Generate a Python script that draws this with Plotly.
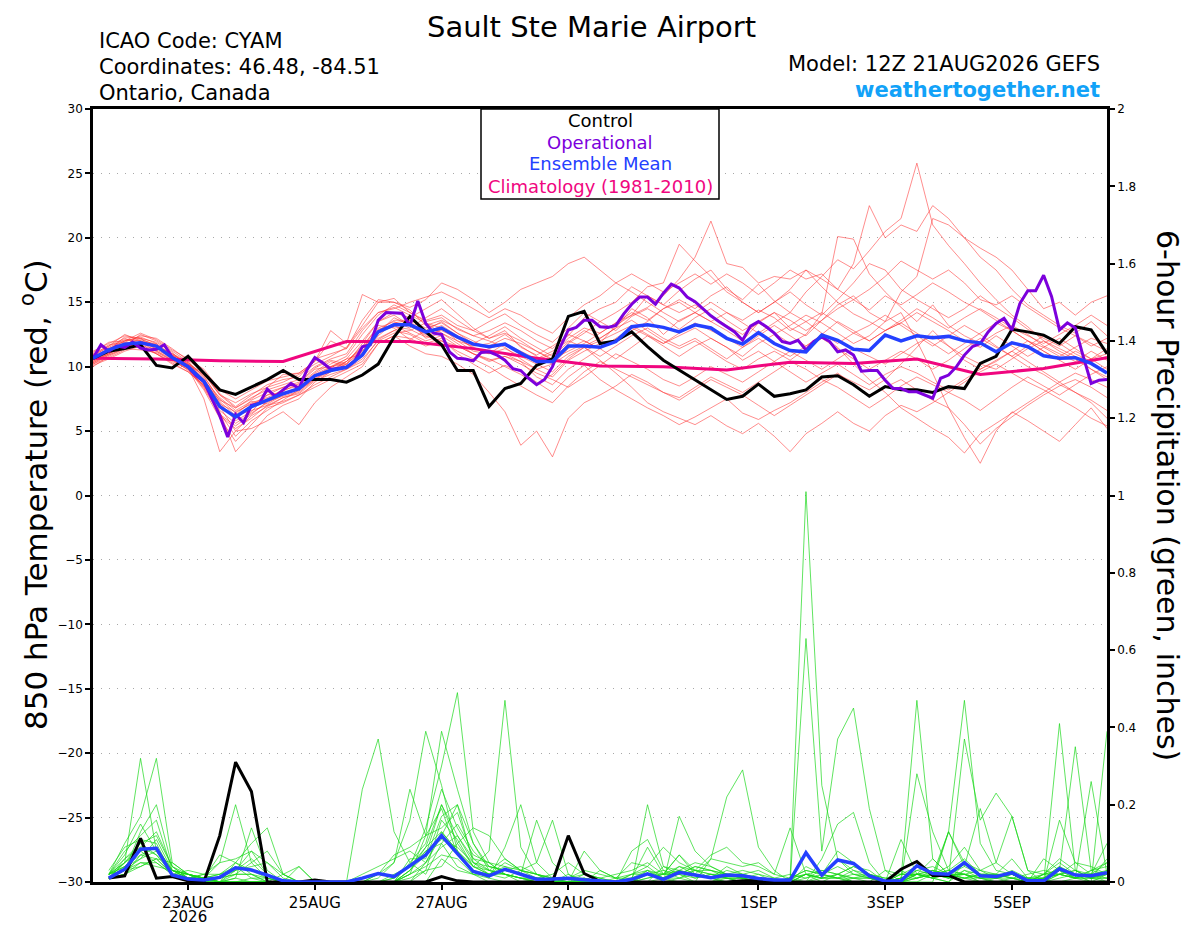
import pandas as pd
import plotly.graph_objects as go

# ---------------- data ----------------
times = pd.date_range("2026-08-21 12:00", periods=65, freq="6h")
op_times = pd.date_range("2026-08-21 12:00", periods=129, freq="3h")
precip_times = times[1:]
clim_times = pd.date_range("2026-08-21 12:00", periods=17, freq="24h")

tick_dates = ["2026-08-23", "2026-08-25", "2026-08-27", "2026-08-29",
              "2026-09-01", "2026-09-03", "2026-09-05"]
tick_text = ["23AUG", "25AUG", "27AUG", "29AUG", "1SEP", "3SEP", "5SEP"]
year_label = "2026"

control_temp = [10.65, 11.2, 11.4, 11.7, 10.1, 9.9, 10.8, 9.5, 8.2, 7.85, 8.45, 9.0, 9.7,
                9.0, 9.0, 9.0, 8.8, 9.35, 10.2, 12.3, 13.9, 12.7, 11.7, 9.7, 9.7, 6.9,
                8.3, 8.7, 10.1, 10.6, 13.9, 14.3, 11.8, 12.0, 12.7, 11.55, 10.5, 9.75, 8.95,
                8.25, 7.45, 7.7, 8.65, 7.7, 7.9, 8.2, 9.2, 9.3, 8.6, 7.7, 8.45, 8.2,
                8.2, 8.0, 8.45, 8.3, 10.25, 10.8, 12.9, 12.7, 12.45, 11.8, 13.1, 12.85, 11.0]

mean_temp = [10.65, 11.3, 11.75, 11.85, 11.6, 10.7, 10.0, 8.85, 6.9, 6.1, 6.9, 7.4, 7.9,
             8.3, 9.3, 9.7, 9.95, 10.9, 12.7, 13.25, 13.25, 12.7, 13.0, 12.3, 11.75, 11.55,
             11.75, 11.05, 10.4, 10.4, 11.6, 11.6, 11.5, 11.95, 13.1, 13.25, 13.05, 12.7, 13.25,
             13.0, 12.2, 11.75, 12.65, 11.8, 11.25, 11.15, 12.45, 12.05, 11.35, 11.25, 12.45, 12.0,
             12.4, 12.25, 12.35, 12.0, 11.85, 11.15, 11.85, 11.55, 10.85, 10.65, 10.7, 10.25, 9.5]

oper_temp = [10.65, 11.7, 11.2, 11.6, 11.5, 11.9, 11.45, 11.3, 11.35, 11.7, 10.7, 10.4, 10.0,
             9.3, 8.85, 7.5, 6.2, 4.55, 6.3, 5.65, 7.0, 7.15, 8.25, 7.7, 8.2, 8.7, 8.3,
             9.75, 10.7, 10.3, 9.8, 9.9, 9.95, 10.4, 11.55, 11.7, 13.6, 14.2, 14.2, 14.15,
             13.2, 15.1, 13.35, 12.6, 12.5, 11.15, 10.65, 10.6, 10.45, 11.1, 11.15, 10.9, 10.5,
             9.85, 9.7, 9.1, 8.6, 9.0, 10.0, 11.55, 12.85, 13.05, 13.6, 13.6, 13.1, 13.05,
             13.2, 14.1, 14.85, 15.4, 15.4, 14.85, 15.7, 16.4, 16.1, 15.4, 15.05, 14.5, 13.95,
             13.5, 13.1, 12.7, 12.05, 13.15, 13.5, 13.1, 12.6, 11.95, 11.8, 12.05, 11.3, 11.95,
             12.3, 11.95, 11.15, 11.3, 10.9, 9.65, 9.7, 9.7, 8.95, 8.3, 8.3, 8.05, 8.05,
             7.8, 7.55, 9.1, 9.35, 10.0, 10.9, 11.55, 11.8, 12.7, 13.35, 13.75, 12.85, 14.9,
             15.9, 15.9, 17.1, 15.45, 12.85, 13.4, 13.0, 10.8, 8.7, 8.95, 9.0]

clim_temp = [10.65, 10.6, 10.45, 10.4, 11.95, 11.95, 11.4, 10.65, 10.05,
             10.0, 9.75, 10.35, 10.25, 10.6, 9.4, 9.85, 10.7]

r01 = [10.5, 11.4, 12.0, 12.3, 11.8, 10.6, 10.2, 9.0, 7.2, 5.8, 6.5, 7.8, 8.4,
       8.8, 9.9, 10.5, 10.2, 11.8, 13.5, 14.2, 13.8, 14.5, 15.2, 14.1, 13.0, 12.2,
       12.8, 11.5, 10.9, 11.6, 12.4, 13.8, 14.5, 15.0, 16.2, 15.5, 14.8, 15.9, 16.8,
       17.5, 16.0, 15.2, 16.4, 15.1, 14.2, 15.8, 17.0, 18.3, 17.6, 19.0, 20.5, 21.5,
       25.8, 21.0, 19.4, 18.0, 16.5, 15.2, 14.0, 13.1, 12.0, 11.4, 10.8, 9.8, 9.0]
r02 = [10.2, 10.9, 11.5, 11.9, 11.2, 10.5, 9.8, 8.2, 6.0, 4.2, 5.5, 6.8, 7.2,
       7.8, 8.6, 9.2, 9.8, 10.4, 12.1, 12.8, 12.5, 11.8, 12.2, 11.0, 10.2, 9.5,
       10.1, 9.6, 8.8, 8.0, 9.2, 10.1, 9.0, 8.2, 7.5, 6.8, 6.2, 5.5, 6.1,
       6.8, 7.5, 6.4, 5.9, 6.6, 7.2, 8.0, 8.8, 9.5, 8.6, 7.8, 8.4, 9.0,
       8.2, 7.4, 6.8, 5.5, 4.0, 5.2, 6.1, 7.0, 7.8, 8.5, 9.0, 8.4, 7.6]
r03 = [10.8, 11.6, 12.2, 11.8, 11.0, 10.2, 9.6, 8.5, 6.5, 3.4, 4.8, 6.2, 7.0,
       7.5, 8.8, 9.6, 10.4, 11.5, 13.2, 13.0, 12.1, 12.8, 13.5, 12.6, 11.8, 12.4,
       13.1, 12.2, 11.5, 10.8, 11.9, 12.8, 12.2, 13.0, 14.5, 13.8, 12.5, 13.6, 14.2,
       13.5, 12.8, 12.0, 13.4, 12.6, 11.8, 12.5, 14.1, 20.1, 19.9, 17.2, 15.8, 14.6,
       13.5, 14.8, 13.2, 12.4, 11.8, 12.6, 13.2, 12.5, 11.6, 11.0, 10.4, 11.2, 10.5]
r04 = [10.0, 10.8, 11.4, 12.0, 11.6, 11.0, 10.4, 9.2, 7.5, 6.4, 7.2, 7.6, 8.2,
       8.5, 9.5, 10.2, 10.8, 12.5, 14.0, 14.8, 14.2, 13.5, 13.8, 12.9, 12.4, 12.0,
       11.5, 10.6, 9.8, 9.2, 10.5, 11.2, 11.8, 13.2, 14.0, 14.6, 15.5, 16.8, 18.5,
       21.3, 18.0, 17.7, 16.5, 17.0, 16.8, 17.5, 16.2, 15.0, 14.1, 13.5, 12.8, 13.4,
       14.2, 13.5, 12.8, 12.0, 11.5, 12.4, 11.6, 10.8, 11.5, 12.2, 11.4, 10.6, 11.0]
r05 = [11.2, 11.8, 12.4, 12.2, 11.6, 10.8, 10.2, 9.5, 7.8, 6.8, 7.5, 8.4, 8.8,
       9.4, 10.2, 10.8, 11.5, 13.2, 15.0, 15.3, 14.2, 13.6, 14.0, 13.2, 12.8, 13.5,
       14.1, 13.2, 12.5, 11.9, 13.0, 14.2, 13.5, 12.8, 13.9, 14.5, 13.8, 12.9, 13.8,
       14.5, 13.6, 12.8, 13.5, 14.2, 13.0, 12.4, 13.6, 14.8, 15.5, 14.2, 13.5, 15.8,
       17.0, 21.5, 21.0, 20.0, 18.5, 17.5, 16.0, 14.8, 14.0, 13.2, 12.6, 13.5, 12.4]
r06 = [10.4, 11.0, 11.6, 12.5, 12.0, 11.2, 10.4, 8.8, 6.2, 5.2, 6.0, 7.0, 7.6,
       8.0, 9.0, 9.8, 10.0, 11.2, 12.6, 13.8, 13.2, 12.4, 12.0, 11.6, 11.0, 10.5,
       10.8, 10.2, 9.5, 9.0, 8.4, 9.2, 10.1, 11.0, 10.4, 9.8, 9.0, 8.5, 9.2,
       10.0, 9.4, 8.8, 9.6, 10.4, 11.2, 10.5, 9.8, 10.6, 11.4, 10.8, 10.2, 11.0,
       11.8, 12.4, 11.6, 10.8, 10.2, 9.8, 10.6, 11.4, 12.0, 11.2, 10.6, 9.8, 9.2]
r07 = [10.6, 11.2, 11.9, 11.5, 11.2, 10.6, 9.9, 7.5, 3.4, 5.0, 5.2, 5.8, 6.5,
       5.5, 7.2, 8.4, 9.2, 10.0, 11.8, 12.4, 11.6, 11.0, 10.8, 10.2, 9.4, 8.0,
       6.5, 3.9, 5.0, 3.0, 6.0, 7.2, 7.8, 8.5, 9.4, 8.8, 8.0, 7.4, 8.2,
       9.0, 8.4, 7.8, 7.0, 6.2, 7.0, 7.8, 8.6, 9.4, 8.8, 8.2, 9.0, 10.2,
       11.5, 12.8, 11.6, 10.5, 9.8, 10.4, 11.2, 12.0, 11.5, 10.8, 11.5, 12.2, 11.8]
r08 = [10.9, 11.5, 12.1, 12.0, 11.4, 11.0, 10.2, 9.0, 7.0, 6.0, 7.0, 7.8, 8.0,
       8.2, 9.2, 10.0, 10.6, 12.0, 13.5, 14.0, 13.2, 12.5, 12.8, 12.2, 11.5, 11.0,
       11.4, 10.8, 10.2, 9.6, 10.8, 11.5, 12.0, 12.6, 13.2, 12.5, 11.8, 12.4, 13.0,
       12.2, 11.5, 10.8, 11.8, 12.5, 13.2, 14.0, 13.4, 12.6, 11.8, 12.4, 13.5, 14.2,
       12.0, 9.5, 6.8, 4.5, 2.5, 5.0, 6.5, 5.8, 5.0, 4.2, 5.5, 6.8, 5.2]
r09 = [10.3, 11.0, 11.8, 12.1, 11.7, 10.9, 10.0, 8.6, 6.6, 5.6, 6.4, 7.2, 7.9,
       8.4, 9.4, 10.0, 10.4, 11.6, 13.0, 13.5, 13.0, 13.8, 14.5, 13.6, 12.8, 12.2,
       12.6, 12.0, 11.2, 10.5, 11.8, 12.6, 13.5, 14.2, 15.0, 16.2, 16.5, 19.5, 18.2,
       17.0, 15.8, 15.0, 14.2, 15.0, 15.8, 14.8, 14.0, 15.2, 16.5, 18.0, 17.5, 16.0,
       15.2, 14.5, 13.8, 14.5, 15.5, 14.6, 13.8, 12.9, 12.2, 11.6, 12.4, 11.8, 11.2]
r10 = [10.7, 11.4, 11.7, 11.6, 11.0, 10.4, 9.8, 8.8, 7.4, 6.8, 7.6, 8.2, 8.6,
       9.0, 10.0, 10.6, 11.0, 12.8, 14.2, 14.6, 14.0, 13.4, 13.0, 12.0, 11.6, 11.8,
       12.5, 11.6, 10.8, 10.2, 11.4, 12.0, 11.4, 10.6, 11.5, 12.4, 11.6, 10.8, 11.6,
       12.2, 11.5, 10.5, 11.2, 10.4, 9.6, 8.8, 9.5, 10.2, 9.4, 8.6, 9.4, 10.0,
       9.5, 8.8, 8.2, 9.0, 9.8, 10.5, 11.2, 10.4, 9.6, 8.8, 8.0, 7.2, 6.0]
r11 = [10.1, 10.6, 11.2, 11.6, 11.4, 10.8, 10.1, 9.4, 7.8, 7.2, 7.9, 8.4, 9.4,
       9.5, 10.4, 12.8, 11.8, 15.6, 15.0, 15.0, 14.6, 15.2, 16.5, 16.0, 15.2, 14.2,
       15.0, 16.0, 16.5, 17.0, 18.0, 18.5, 17.5, 16.5, 15.8, 15.0, 14.2, 13.5, 14.2,
       15.0, 14.2, 13.6, 14.4, 13.8, 12.8, 13.5, 14.2, 13.4, 12.6, 12.0, 12.8, 13.4,
       12.6, 11.8, 11.0, 11.8, 12.6, 13.4, 12.8, 12.0, 11.2, 10.5, 11.2, 10.6, 9.8]
r12 = [10.6, 11.3, 12.0, 12.2, 11.9, 11.1, 10.0, 8.4, 6.4, 4.6, 5.8, 6.6, 7.4,
       8.2, 9.0, 9.6, 10.2, 11.4, 12.9, 13.2, 12.6, 12.0, 12.4, 11.6, 11.0, 10.6,
       10.0, 9.4, 8.6, 9.4, 10.6, 11.5, 10.5, 9.5, 8.4, 7.2, 6.5, 6.0, 5.5,
       6.2, 5.4, 4.8, 5.6, 4.6, 3.4, 4.8, 5.6, 6.5, 5.6, 5.0, 6.2, 7.0,
       6.5, 7.2, 8.0, 7.4, 6.6, 7.5, 8.4, 9.2, 8.5, 7.8, 8.6, 9.4, 10.0]
r13 = [11.0, 11.6, 12.5, 12.0, 11.5, 10.6, 9.7, 8.5, 6.8, 6.2, 7.4, 8.0, 8.4,
       8.6, 9.6, 10.4, 10.0, 10.8, 12.4, 13.4, 13.6, 13.0, 13.4, 12.6, 12.0, 11.4,
       11.8, 11.2, 10.6, 11.2, 12.0, 11.5, 10.8, 11.6, 12.4, 13.0, 12.2, 11.6, 12.2,
       11.4, 10.6, 11.5, 12.2, 11.4, 10.8, 11.6, 12.4, 11.5, 10.2, 9.0, 8.0, 6.8,
       6.0, 5.2, 4.5, 3.3, 4.8, 5.6, 6.4, 7.2, 8.0, 8.8, 9.5, 9.0, 8.4]
r14 = [10.4, 11.1, 11.5, 11.9, 11.8, 10.9, 10.3, 9.1, 7.1, 6.5, 7.1, 7.5, 8.1,
       8.7, 9.8, 10.0, 10.2, 11.2, 12.8, 13.6, 13.6, 12.2, 12.6, 12.0, 11.2, 11.0,
       11.8, 11.0, 10.5, 11.0, 12.2, 13.0, 12.6, 13.4, 14.2, 13.6, 14.5, 15.2, 14.5,
       15.5, 16.2, 15.0, 14.2, 15.0, 16.0, 17.5, 16.8, 16.0, 18.0, 22.5, 20.0, 21.0,
       20.5, 22.5, 21.5, 20.0, 19.2, 18.5, 17.5, 16.0, 14.5, 15.0, 14.0, 15.0, 15.5]
r15 = [10.9, 11.7, 11.9, 12.4, 12.2, 11.4, 10.5, 9.6, 7.9, 6.9, 7.8, 8.6, 9.0,
       9.2, 10.6, 11.0, 11.4, 13.6, 15.2, 15.0, 14.4, 13.2, 13.6, 13.0, 12.4, 12.8,
       13.4, 12.8, 12.0, 11.4, 12.5, 12.0, 11.4, 12.2, 13.0, 12.4, 11.8, 12.6, 13.4,
       12.8, 12.2, 11.5, 12.4, 13.2, 12.4, 11.6, 12.5, 13.5, 12.8, 12.0, 12.8, 13.6,
       14.5, 13.8, 13.0, 13.8, 14.5, 13.8, 13.0, 12.4, 11.8, 12.5, 13.2, 14.0, 13.2]
r16 = [10.5, 11.0, 11.6, 11.5, 11.0, 10.3, 9.6, 8.6, 6.9, 5.0, 6.2, 6.9, 7.6,
       7.9, 8.9, 9.4, 9.8, 10.6, 12.0, 12.6, 12.8, 13.4, 12.6, 11.8, 11.0, 10.4,
       10.8, 10.4, 9.2, 8.6, 9.8, 10.6, 11.4, 12.0, 12.8, 13.5, 14.5, 15.0, 14.2,
       13.5, 14.2, 13.4, 12.6, 13.4, 14.2, 13.5, 12.6, 11.8, 12.6, 13.2, 14.0, 13.2,
       12.4, 11.6, 12.4, 13.2, 12.5, 11.6, 10.8, 11.6, 12.4, 11.8, 11.0, 10.4, 10.8]
r17 = [10.8, 11.3, 12.3, 12.2, 11.3, 10.7, 10.0, 8.9, 7.6, 6.6, 7.3, 7.1, 7.8,
       8.4, 9.2, 9.9, 10.6, 11.0, 12.2, 12.8, 13.4, 12.6, 13.2, 12.4, 11.8, 11.6,
       12.2, 11.8, 11.2, 10.6, 11.2, 11.8, 12.6, 13.4, 14.0, 15.5, 14.8, 14.2, 14.8,
       14.0, 13.2, 12.5, 13.4, 14.2, 13.6, 12.8, 13.6, 14.5, 15.2, 14.4, 15.5, 14.8,
       15.6, 16.5, 15.8, 15.0, 14.4, 13.6, 12.8, 12.0, 11.2, 10.5, 9.8, 10.6, 11.4]
r18 = [10.2, 10.7, 11.3, 11.8, 11.5, 10.9, 10.3, 9.3, 7.3, 6.2, 6.6, 7.0, 7.3,
       7.8, 8.4, 9.0, 9.6, 10.2, 11.8, 12.4, 12.2, 11.6, 12.0, 11.2, 10.6, 10.0,
       9.2, 8.5, 7.8, 7.2, 8.5, 9.6, 10.4, 9.8, 9.2, 8.6, 8.0, 7.6, 8.4,
       9.2, 8.6, 8.0, 8.8, 9.6, 10.4, 9.8, 9.0, 8.4, 7.6, 6.8, 7.6, 8.5,
       9.2, 8.6, 8.0, 8.8, 9.6, 10.2, 9.5, 8.8, 8.2, 7.5, 6.8, 6.0, 5.4]
r19 = [11.1, 11.9, 12.0, 12.6, 12.1, 11.3, 10.6, 9.8, 8.2, 7.5, 8.2, 8.9, 9.2,
       9.5, 10.4, 12.0, 11.4, 13.0, 14.2, 14.5, 15.0, 15.4, 15.8, 15.2, 14.5, 13.8,
       14.5, 14.0, 13.2, 12.6, 13.8, 14.8, 15.5, 16.5, 17.2, 16.5, 15.8, 16.5, 17.2,
       16.4, 17.2, 16.5, 15.6, 16.5, 17.5, 16.8, 17.2, 16.0, 15.2, 16.0, 17.0, 18.2,
       17.5, 16.8, 17.5, 16.5, 15.2, 14.8, 15.5, 14.6, 13.8, 13.0, 12.4, 11.6, 12.2]
r20 = [10.3, 10.9, 11.4, 11.3, 11.1, 10.5, 9.9, 8.3, 6.3, 5.4, 6.3, 7.3, 7.7,
       8.1, 9.1, 9.7, 10.4, 11.4, 12.7, 13.1, 12.9, 12.3, 12.9, 12.3, 11.4, 11.2,
       11.0, 10.4, 9.8, 10.2, 11.0, 11.6, 12.2, 13.0, 13.6, 12.8, 12.0, 11.4, 12.0,
       11.2, 10.4, 9.8, 10.6, 11.2, 10.5, 11.4, 12.2, 11.4, 10.6, 9.8, 10.5, 11.2,
       10.6, 9.8, 10.5, 11.4, 12.2, 11.5, 10.8, 10.0, 9.4, 8.6, 8.0, 7.4, 6.6]
member_temps = [r01, r02, r03, r04, r05, r06, r07, r08, r09, r10,
                r11, r12, r13, r14, r15, r16, r17, r18, r19, r20]

control_precip = [.01, .016, .113, .01, .014, .003, 0, .12, .31, .234, 0, 0, 0, .005, 0, 0,
                  0, 0, 0, 0, 0, .014, .003, 0, 0, 0, 0, 0, 0, .12, .022, .002,
                  0, 0, 0, 0, 0, 0, 0, 0, .003, .003, 0, 0, 0, 0, 0, 0,
                  0, 0, .033, .053, .017, .017, 0, 0, 0, 0, 0, 0, 0, 0, 0, 0]
mean_precip = [.01, .033, .085, .087, .018, .008, .005, .012, .037, .031, .018, .003, 0, 0, 0, 0,
               .01, .022, .014, .041, .07, .12, .072, .027, .016, .033, .02, .007, .008, .01, .006, .003,
               0, .007, .021, .007, .025, .018, .011, .018, .016, .009, .005, .005, .076, .018, .057, .048,
               .016, .002, .003, .042, .022, .02, .05, .016, .014, .024, .003, .003, .034, .018, .016, .024]

g01 = [.01,.05,.32,.08,.02,.01,0,0, .05,.02,0,0,0,0,0,0, .24,.37,.13,.05,.02,.1,.04,.02, .01,0,0,0,0,.02,0,0,
       0,.02,.04,.01,0,0,0,.01, 0,0,0,0,.02,.01,.06,.03, .01,0,0,.02,.01,0,.03,.01, 0,0,0,.01,.04,.02,0,.39]
g02 = [.02,.1,.17,.32,.05,.02,.01,0, 0,0,0,.02,.04,0,0,0, 0,.02,.05,.24,.12,.39,.24,.1, .03,.02,.01,0,0,0,0,0,
       0,0,.2,.04,.02,0,0,.02, .01,0,0,.01,.03,.02,.01,0, 0,0,.01,.47,.06,.02,.01,0, 0,.01,0,.02,.03,.01,.02,.05]
g03 = [.01,.03,.13,.2,.04,.01,.02,.05, .2,.05,.01,0,0,0,0,0, 0,0,.01,.04,.14,.3,.49,.13, .05,.02,.01,0,.01,0,0,0,
       0,.08,.11,.03,.01,0,0,0, 0,0,0,.01,1.01,.25,.06,.02, .01,0,0,.01,.02,.01,.02,0, 0,0,0,0,.01,.02,0,.02]
g04 = [.02,.08,.12,.16,.03,.02,0,0, .01,.14,.03,0,0,0,0,0, 0,.01,.05,.16,.39,.25,.08,.03, .01,.09,.2,.05,.01,0,0,0,
       0,.01,.09,.02,.07,.03,.01,0, 0,0,0,0,.63,.08,.37,.45, .19,.03,0,.02,.01,0,.05,.02, .01,0,0,0,.02,.01,0,0]
g05 = [.01,.06,.1,.12,.04,.01,.01,.07, .05,.1,.14,.02,0,0,0,0, 0,0,0,.03,.09,.2,.1,.04, .08,.47,.09,.02,0,0,.01,0,
       0,0,.03,0,.17,.08,.04,.02, .01,.01,0,0,0,.06,.15,.18, .05,0,0,.28,.13,.03,.02,.01, 0,0,0,.02,.06,.03,.01,0]
g06 = [.03,.09,.11,.1,.02,.03,.02,0, 0,0,0,0,0,0,0,0, 0,0,0,0,.05,.12,.2,.1, .04,.03,.02,.16,.05,.01,0,0,
       .01,.02,.02,.02,.07,.02,.06,.22, .29,.09,.03,0,0,.02,.01,0, 0,0,.11,.02,.01,.13,.47,.1, .03,.02,0,0,0,.01,.02,0]
g07 = [.02,.04,.08,.09,.03,.02,.01,.05, .06,.08,.02,0,0,0,0,0, 0,0,0,.02,.04,.07,.06,.02, 0,0,0,.01,.01,0,.08,.03,
       .01,.05,.04,.09,.05,.03,.03,.02, .01,0,0,0,.01,.03,.02,.04, .02,0,0,.02,.03,.01,.37,.16, .23,.17,.03,0,.16,.05,.02,.1]
g08 = [.01,.02,.07,.06,.02,.01,0,0, 0,0,0,0,0,0,0,0, 0,0,0,0,.03,.04,.1,.14, .12,.06,.03,.02,.01,.01,0,0,
       0,0,0,0,.01,.03,.07,.09, .05,.04,.02,.14,.02,0,0,0, 0,0,0,0,0,.13,.04,.19, .05,.02,0,0,.41,.03,.01,.02]
g09 = [.02,.05,.09,.07,.02,.01,.02,.02, .05,.03,.01,0,.04,0,0,0, 0,0,0,0,0,.06,.03,.02, .02,.03,.04,.02,0,0,.02,.01,
       .02,.03,.05,.02,.04,.03,.02,.01, 0,0,0,0,0,0,0,.01, .02,.01,0,.01,.02,.13,.05,.03, .02,.06,.01,.02,.03,.35,.03,.05]
g10 = [.01,.03,.05,.05,.02,.02,.01,.01, .02,.02,.01,0,0,0,0,0, 0,0,0,.02,.12,.14,.18,.06, .05,.04,.03,.01,0,0,0,.03,
       .01,0,0,0,0,0,.06,.05, .04,.05,.02,.01,.02,.01,.02,0, 0,.03,.02,.02,.06,.02,.02,0, .01,.02,0,.06,.03,.01,.26,.02]
g11 = [.02,.07,.15,.08,.03,.01,0,0, 0,0,0,0,0,0,0,0, 0,0,0,.05,.1,.24,.14,.07, .05,.02,0,0,0,0,0,0,
       0,0,0,.04,.03,.05,.04,.02, .03,.02,0,0,0,0,0,0, 0,0,0,0,.02,.04,.09,.03, .05,.17,.03,.02,.05,.02,.02,.03]
g12 = [.01,.04,.06,.11,.03,.01,.01,.02, .03,.08,.05,.01,0,0,0,0, 0,0,.01,.04,.08,.11,.09,.05, .03,.06,.03,.02,.01,.01,0,0,
       0,.01,.02,.01,.03,.02,.01,.03, .02,.03,.01,.02,.01,.02,.01,.03, .02,0,.03,.01,.02,.01,.03,.02, .01,.02,.01,.01,.02,.05,.04,.02]
g13 = [.02,.03,.04,.06,.05,.02,.01,0, .01,0,0,0,0,0,0,0, .02,.04,.06,.08,.05,.13,.08,.04, .02,.01,.03,.05,.16,.02,0,0,
       0,0,0,.01,.02,.04,.03,.01, .01,0,0,.01,.03,.02,.04,.02, .02,.01,.02,.02,.01,.02,.01,.02, .02,.01,.02,.03,.02,.01,.03,.04]
g14 = [.01,.02,.05,.04,.03,.01,.01,0, 0,0,0,0,0,0,0,0, 0,.02,.07,.09,.12,.19,.07,.03, .02,.05,.03,.02,.01,.01,.02,.01,
       0,0,.01,.02,.03,.02,.01,0, 0,0,0,0,0,0,.02,.04, .03,0,.02,.02,.01,.02,.04,.02, .02,.02,.01,.01,.03,.02,.01,.01]
g15 = [.02,.06,.09,.13,.04,.02,0,0, .03,.04,.05,.02,0,0,0,0, 0,0,0,.01,.03,.16,.11,.04, .02,.02,.01,.01,0,.01,.03,.02,
       .01,.01,.02,.03,.02,.01,.02,.01, 0,.01,0,.01,0,.01,.01,.02, .01,0,.01,.01,.03,.02,.01,.02, .02,.01,0,.01,.04,.01,.03,.02]
g16 = [.01,.05,.08,.05,.02,.01,.01,.02, .04,.01,0,0,0,0,0,0, 0,0,0,.03,.07,.2,.12,.06, .03,.02,.01,0,0,0,0,0,
       0,.02,.03,.02,.02,.04,.03,.02, .01,0,0,0,.02,.01,.01,.01, .01,0,.01,.02,.02,.03,.02,.03, .01,.01,0,.01,.02,.03,.01,.03]
g17 = [.02,.04,.07,.09,.03,.02,.01,.01, .02,.02,0,0,0,0,0,0, 0,0,0,.06,.06,.17,.2,.05, .04,.03,.02,.01,0,.01,.01,0,
       0,0,.02,.01,.03,.01,.02,.02, .02,.01,0,0,0,0,0,0, 0,0,0,.03,.02,.01,.01,.01, .01,.03,.01,.01,.02,.01,.01,.01]
g18 = [.01,.03,.06,.08,.02,.01,0,.01, .03,.06,.02,0,0,0,0,0, 0,0,.02,.04,.09,.13,.08,.04, .03,.02,.01,.01,.02,.05,.02,.01,
       0,.01,.03,.01,.04,.02,.01,.04, .02,.01,0,0,.04,.02,.08,.05, .02,0,.02,.04,.02,.03,.06,.02, .01,.02,0,0,.03,.02,.01,.06]
g19 = [.02,.05,.1,.07,.03,.02,.01,0, .02,.05,.08,.02,0,0,0,0, 0,0,0,.03,.08,.1,.15,.08, .04,.03,.02,.01,0,0,0,0,
       0,0,.01,.02,.02,.03,.02,.01, .01,0,0,.01,.02,.03,.02,.01, .01,0,.01,.02,.03,.02,.02,.01, .02,.01,.01,0,.02,.03,.02,.01]
g20 = [.01,.02,.04,.06,.02,.01,.01,0, 0,.01,.01,0,0,0,0,0, 0,0,0,.02,.05,.09,.12,.05, .02,.04,.02,.01,0,0,.01,0,
       0,0,.02,.01,.01,.02,.01,.01, .01,.02,.01,0,.02,.01,.02,.01, 0,0,.01,.03,.04,.02,.02,.01, .01,.02,0,.02,.02,.01,.01,.02]
member_precip = [g01, g02, g03, g04, g05, g06, g07, g08, g09, g10,
                 g11, g12, g13, g14, g15, g16, g17, g18, g19, g20]

for s in member_temps + [control_temp, mean_temp]:
    assert len(s) == 65, len(s)
for s in member_precip + [control_precip, mean_precip]:
    assert len(s) == 64, len(s)
assert len(oper_temp) == 129, len(oper_temp)

# ---------------- figure ----------------
FONT = "DejaVu Sans"
OFF = 8                     # page body margin of the browser
W, H = 1200 - OFF, 927 - OFF
L, R, T, B = 93 - OFF, 1107 - OFF, 109 - OFF, 882 - OFF


def px(xp):                 # reference-page pixel -> paper fraction
    return (xp - OFF - L) / (R - L)


def py(yp):
    return (B - (yp - OFF)) / (B - T)


fig = go.Figure()

for m in member_temps:
    fig.add_trace(go.Scatter(x=times, y=m, mode="lines",
                             line=dict(color="rgba(255,50,50,0.7)", width=0.8),
                             hoverinfo="skip"))
for g in member_precip:
    fig.add_trace(go.Scatter(x=precip_times, y=g, mode="lines", yaxis="y2",
                             line=dict(color="rgba(20,215,20,0.85)", width=0.8),
                             hoverinfo="skip"))

fig.add_trace(go.Scatter(x=precip_times, y=control_precip, mode="lines", yaxis="y2",
                         line=dict(color="black", width=3)))
fig.add_trace(go.Scatter(x=precip_times, y=mean_precip, mode="lines", yaxis="y2",
                         line=dict(color="#2440ff", width=3.5)))

fig.add_trace(go.Scatter(x=clim_times, y=clim_temp, mode="lines",
                         line=dict(color="#f0067f", width=3)))
fig.add_trace(go.Scatter(x=times, y=control_temp, mode="lines",
                         line=dict(color="black", width=3)))
fig.add_trace(go.Scatter(x=op_times, y=oper_temp, mode="lines",
                         line=dict(color="#7c00dc", width=3)))
fig.add_trace(go.Scatter(x=times, y=mean_temp, mode="lines",
                         line=dict(color="#2440ff", width=3.5)))

ann = []


def text(t, x, y, size, color="black", xanchor="center", angle=0, yanchor="middle"):
    ann.append(dict(text=t, x=px(x), y=py(y), xref="paper", yref="paper",
                    xanchor=xanchor, yanchor=yanchor, showarrow=False,
                    textangle=angle, font=dict(family=FONT, size=size, color=color)))


text("Sault Ste Marie Airport", 591, OFF, 29, yanchor="top")
text("ICAO Code: CYAM", 97, 41, 21, xanchor="left")
text("Coordinates: 46.48, -84.51", 97, 67, 21, xanchor="left")
text("Ontario, Canada", 97, 93, 21, xanchor="left")
text("Model: 12Z 21AUG2026 GEFS", 1102, 64, 21, xanchor="right")
text("<b>weathertogether.net</b>", 1102, 90, 21, color="#12a2f8", xanchor="right")
text("Control", 600, 121, 18)
text("Operational", 600, 142, 18, color="#7c00dc")
text("Ensemble Mean", 600, 164, 18, color="#2440ff")
text("Climatology (1981-2010)", 600, 186, 18, color="#f0067f")
text("850 hPa Temperature (red, <sup>o</sup>C)", 34, 495, 31, angle=-90)
text("6-hour Precipitation (green, inches)", 1168, 495, 30, angle=90)
ann.append(dict(text=year_label, x=tick_dates[0], xref="x", y=py(917), yref="paper",
                xanchor="center", yanchor="middle", showarrow=False,
                font=dict(family=FONT, size=15, color="black")))

shapes = [dict(type="rect", xref="paper", yref="paper",
               x0=px(481), x1=px(719), y0=py(199), y1=py(109),
               line=dict(color="black", width=1.5), fillcolor="white", layer="above")]

fig.update_layout(
    width=W, height=H,
    margin=dict(l=L, r=W - R, t=T, b=H - B),
    paper_bgcolor="white", plot_bgcolor="white",
    showlegend=False,
    annotations=ann, shapes=shapes,
    xaxis=dict(range=[times[0], times[-1]], tickmode="array",
               tickvals=tick_dates, ticktext=tick_text,
               ticks="outside", ticklen=5, tickwidth=1.5, tickcolor="black",
               showline=True, linewidth=2.5, linecolor="black", mirror=True,
               showgrid=False, zeroline=False,
               tickfont=dict(family=FONT, size=15, color="black")),
    yaxis=dict(range=[-30, 30], tickmode="array", tickvals=list(range(-30, 31, 5)),
               ticks="outside", ticklen=5, tickwidth=1.5, tickcolor="black",
               showline=True, linewidth=2.5, linecolor="black",
               showgrid=True, gridcolor="#a8a8a8", griddash="1px,7px", gridwidth=1.2,
               zeroline=False,
               tickfont=dict(family=FONT, size=12, color="black")),
    yaxis2=dict(range=[0, 2], overlaying="y", side="right", tickmode="array",
                tickvals=[0, 0.2, 0.4, 0.6, 0.8, 1, 1.2, 1.4, 1.6, 1.8, 2],
                ticks="outside", ticklen=5, tickwidth=1.5, tickcolor="black",
                showline=True, linewidth=2.5, linecolor="black",
                showgrid=False, zeroline=False,
                tickfont=dict(family=FONT, size=12, color="black")),
)

fig.write_html("out.html")
